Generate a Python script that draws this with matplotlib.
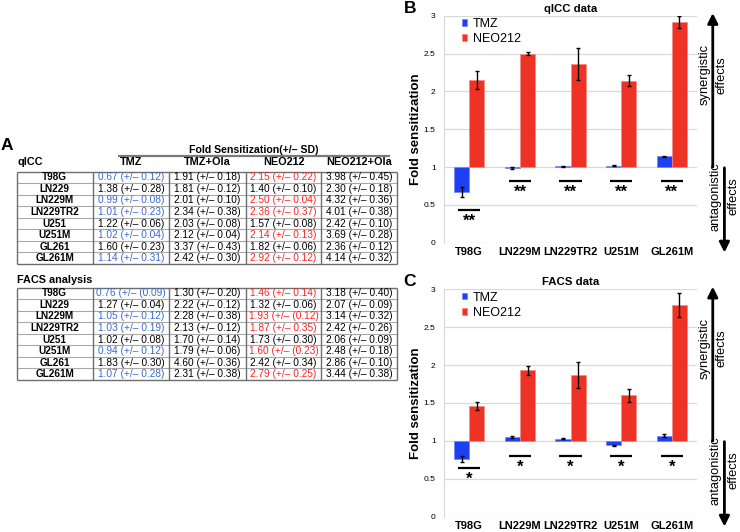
import numpy as np
import matplotlib
matplotlib.use("Agg")
import matplotlib.pyplot as plt
from matplotlib.transforms import blended_transform_factory
from matplotlib.ticker import FuncFormatter

plt.rcParams["font.family"] = ["Liberation Sans", "DejaVu Sans"]

# ---------------- table data (panel A) ----------------
LINES = ["T98G", "LN229", "LN229M", "LN229TR2", "U251", "U251M", "GL261", "GL261M"]
TREATMENTS = ["TMZ", "TMZ+Ola", "NEO212", "NEO212+Ola"]
HIGHLIGHT = ["T98G", "LN229M", "LN229TR2", "U251M", "GL261M"]

QICC_TMZ = ["0.67 (+/– 0.12)", "1.38 (+/– 0.28)", "0.99 (+/– 0.08)", "1.01 (+/– 0.23)",
            "1.22 (+/– 0.06)", "1.02 (+/– 0.04)", "1.60 (+/– 0.23)", "1.14 (+/– 0.31)"]
QICC_TMZ_OLA = ["1.91 (+/– 0.18)", "1.81 (+/– 0.12)", "2.01 (+/– 0.10)", "2.34 (+/– 0.38)",
                "2.03 (+/– 0.08)", "2.12 (+/– 0.04)", "3.37 (+/– 0.43)", "2.42 (+/– 0.30)"]
QICC_NEO = ["2.15 (+/– 0.22)", "1.40 (+/– 0.10)", "2.50 (+/– 0.04)", "2.36 (+/– 0.37)",
            "1.57 (+/– 0.08)", "2.14 (+/– 0.13)", "1.82 (+/– 0.06)", "2.92 (+/– 0.12)"]
QICC_NEO_OLA = ["3.98 (+/– 0.45)", "2.30 (+/– 0.18)", "4.32 (+/– 0.36)", "4.01 (+/– 0.38)",
                "2.42 (+/– 0.10)", "3.69 (+/– 0.28)", "2.36 (+/– 0.12)", "4.14 (+/– 0.32)"]

FACS_TMZ = ["0.76 (+/– (0.09)", "1.27 (+/– 0.04)", "1.05 (+/– 0.12)", "1.03 (+/– 0.19)",
            "1.02 (+/– 0.08)", "0.94 (+/– 0.12)", "1.83 (+/– 0.30)", "1.07 (+/– 0.28)"]
FACS_TMZ_OLA = ["1.30 (+/– 0.20)", "2.22 (+/– 0.12)", "2.28 (+/– 0.38)", "2.13 (+/– 0.12)",
                "1.70 (+/– 0.14)", "1.79 (+/– 0.06)", "4.60 (+/– 0.36)", "2.31 (+/– 0.38)"]
FACS_NEO = ["1.46 (+/– 0.14)", "1.32 (+/– 0.06)", "1.93 (+/– (0.12)", "1.87 (+/– 0.35)",
            "1.73 (+/– 0.30)", "1.60 (+/– (0.23)", "2.42 (+/– 0.34)", "2.79 (+/– 0.25)"]
FACS_NEO_OLA = ["3.18 (+/– 0.40)", "2.07 (+/– 0.09)", "3.14 (+/– 0.32)", "2.42 (+/– 0.26)",
                "2.06 (+/– 0.09)", "2.48 (+/– 0.18)", "2.86 (+/– 0.10)", "3.44 (+/– 0.38)"]

# ---------------- bar chart data (panels B, C) ----------------
CELLS = ["T98G", "LN229M", "LN229TR2", "U251M", "GL261M"]
QICC_TMZ_MEAN = [0.67, 0.99, 1.01, 1.02, 1.14]
QICC_TMZ_ERR = [0.07, 0.01, 0.01, 0.01, 0.01]
QICC_NEO_MEAN = [2.15, 2.50, 2.36, 2.14, 2.92]
QICC_NEO_ERR = [0.12, 0.02, 0.21, 0.07, 0.08]
FACS_TMZ_MEAN = [0.76, 1.05, 1.03, 0.94, 1.07]
FACS_TMZ_ERR = [0.04, 0.01, 0.01, 0.01, 0.02]
FACS_NEO_MEAN = [1.46, 1.93, 1.87, 1.60, 2.79]
FACS_NEO_ERR = [0.05, 0.06, 0.17, 0.09, 0.16]
QICC_SIG = ["**"] * 5
FACS_SIG = ["*"] * 5

BLUE_TXT, RED_TXT = "#3a6ad0", "#ff2222"
BLUE, RED = "#1c40f2", "#ee3326"
W, H = 740, 532

fig = plt.figure(figsize=(W / 100, H / 100), dpi=100)
ov = fig.add_axes([0, 0, 1, 1])
ov.set_xlim(0, W); ov.set_ylim(H, 0); ov.axis("off")

COL_X = [16.5, 92.7, 169, 246, 321, 397]
ROW_H = 11.57


def draw_table(top, columns):
    bottom = top + ROW_H * len(LINES)
    for i, name in enumerate(LINES):
        yc = top + (i + 0.5) * ROW_H
        ov.text((COL_X[0] + COL_X[1]) / 2, yc, name, ha="center", va="center",
                fontsize=7.2, fontweight="bold")
        for j, col in enumerate(columns):
            color = "black"
            if name in HIGHLIGHT and TREATMENTS[j] == "TMZ":
                color = BLUE_TXT
            if name in HIGHLIGHT and TREATMENTS[j] == "NEO212":
                color = RED_TXT
            ov.text((COL_X[j + 1] + COL_X[j + 2]) / 2, yc, col[i], ha="center", va="center",
                    fontsize=7.3, color=color)
        if i:
            ov.hlines(top + i * ROW_H, COL_X[0], COL_X[-1], color="#a8a8a8", lw=0.8)
    ov.vlines(COL_X, top, bottom, color="#6e6e6e", lw=1)
    ov.hlines([top, bottom], COL_X[0], COL_X[-1], color="#6e6e6e", lw=1)


ov.text(1, 150, "A", fontsize=12.5, fontweight="bold", va="baseline")
ov.text(254, 150, "Fold Sensitization(+/– SD)", ha="center", va="center", fontsize=7.6, fontweight="bold")
ov.hlines(155.5, 118, 390, color="#7a7a7a", lw=1.6)
ov.text(17, 162, "qICC", ha="left", va="center", fontsize=7.8, fontweight="bold")
for j, tr in enumerate(TREATMENTS):
    ov.text((COL_X[j + 1] + COL_X[j + 2]) / 2, 162, tr, ha="center", va="center",
            fontsize=7.8, fontweight="bold")
draw_table(171.5, [QICC_TMZ, QICC_TMZ_OLA, QICC_NEO, QICC_NEO_OLA])
ov.text(17, 280, "FACS analysis", ha="left", va="center", fontsize=7.8, fontweight="bold")
draw_table(287.5, [FACS_TMZ, FACS_TMZ_OLA, FACS_NEO, FACS_NEO_OLA])


def draw_chart(rect, letter, title, tmz, tmz_err, neo, neo_err, sig, sig_y):
    ax = fig.add_axes(rect)
    x = np.arange(len(CELLS))
    w = 0.3
    ekw = dict(ecolor="black", elinewidth=1, capsize=1.6, capthick=1)
    ax.bar(x - w / 2, np.array(tmz) - 1, w, bottom=1, color=BLUE, edgecolor="#6f86f5",
           lw=0.5, yerr=tmz_err, error_kw=ekw, label="TMZ")
    ax.bar(x + w / 2, np.array(neo) - 1, w, bottom=1, color=RED, edgecolor="#f58a80",
           lw=0.5, yerr=neo_err, error_kw=ekw, label="NEO212")
    for xi, s, yl in zip(x, sig, sig_y):
        ax.plot([xi - 0.22, xi + 0.22], [yl, yl], color="black", lw=1.6, solid_capstyle="butt")
        ax.annotate(s, (xi, yl), xytext=(0, -11), textcoords="offset points", ha="center",
                    va="baseline", fontsize=12, fontweight="bold")
    ax.set_xlim(-0.5, len(CELLS) - 0.5)
    ax.set_ylim(0, 3)
    ax.set_yticks(np.arange(0, 3.01, 0.5))
    ax.yaxis.set_major_formatter(FuncFormatter(lambda v, p: f"{v:g}"))
    ax.set_xticks(x)
    ax.set_xticklabels(CELLS, fontsize=8, fontweight="bold")
    ax.tick_params(axis="x", length=0, pad=3)
    ax.tick_params(axis="y", length=0, pad=6, labelsize=6)
    ax.yaxis.grid(True, color="#d9d9d9", lw=0.9)
    ax.set_axisbelow(True)
    for sp in ["top", "right", "bottom"]:
        ax.spines[sp].set_visible(False)
    ax.spines["left"].set_color("#d9d9d9")
    ax.set_ylabel("Fold sensitization", fontsize=9.5, fontweight="bold")
    ax.yaxis.set_label_coords(-0.085, 0.5)
    ax.set_title(title, fontsize=8.2, fontweight="bold", pad=3)
    ax.legend(loc="upper left", bbox_to_anchor=(0.07, 0.99), frameon=False, fontsize=9,
              handlelength=0.45, handleheight=0.45, handletextpad=0.45, labelspacing=0.25,
              borderaxespad=0, borderpad=0)
    ax.text(-0.16, 1.0, letter, transform=ax.transAxes, fontsize=12.5, fontweight="bold",
            ha="left", va="bottom")

    tr = blended_transform_factory(ax.transAxes, ax.transData)
    ap = dict(arrowstyle="-|>", color="black", lw=2, mutation_scale=15, shrinkA=0, shrinkB=0)
    ax.annotate("", xy=(1.062, 3.035), xytext=(1.062, 1.0), xycoords=tr, textcoords=tr,
                arrowprops=ap, annotation_clip=False)
    ax.annotate("", xy=(1.108, -0.13), xytext=(1.108, 0.99), xycoords=tr, textcoords=tr,
                arrowprops=ap, annotation_clip=False)
    ax.text(1.063, 2.22, "synergistic\neffects", transform=tr, rotation=90, ha="center",
            va="center", fontsize=9.3, linespacing=1.6, clip_on=False)
    ax.text(1.109, 0.61, "antagonistic\neffects", transform=tr, rotation=90, ha="center",
            va="center", fontsize=9.3, linespacing=1.6, clip_on=False)
    return ax


draw_chart([0.6, 0.5438, 0.342, 0.4267], "B", "qICC data", QICC_TMZ_MEAN, QICC_TMZ_ERR,
           QICC_NEO_MEAN, QICC_NEO_ERR, QICC_SIG, [0.43, 0.81, 0.81, 0.81, 0.81])
draw_chart([0.6, 0.0288, 0.342, 0.4274], "C", "FACS data", FACS_TMZ_MEAN, FACS_TMZ_ERR,
           FACS_NEO_MEAN, FACS_NEO_ERR, FACS_SIG, [0.64, 0.80, 0.80, 0.80, 0.80])

fig.savefig("out.png", dpi=100)
